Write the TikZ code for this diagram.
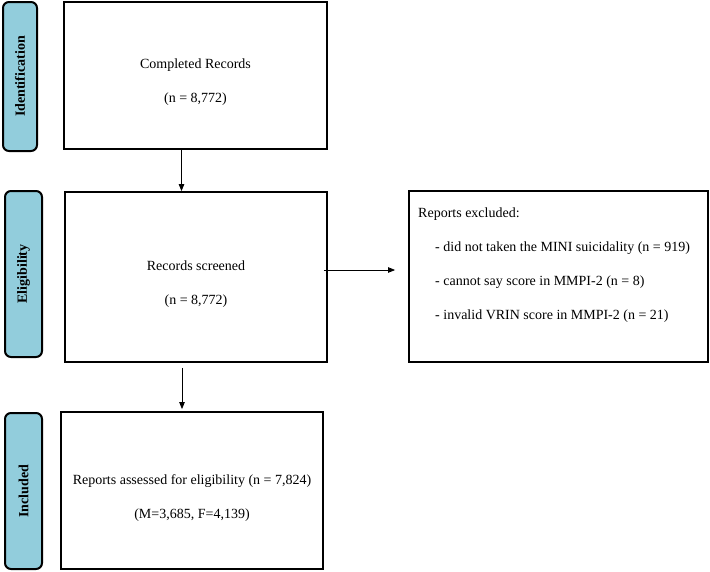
\documentclass[tikz,border=0pt]{standalone}
\usepackage{fontspec}
\setmainfont{Liberation Serif}
\usepackage{tikz}
\usetikzlibrary{arrows.meta}
\definecolor{stageblue}{RGB}{146,205,220}
\tikzstyle{arrow}=[draw=black, line width=0.8pt, >={Triangle[length=7pt, width=5.5pt]}]
\tikzstyle{stage}=[draw=black, line width=2pt, fill=stageblue, rounded corners=6pt, rotate=90, font=\fontsize{14}{17}\selectfont\bfseries, inner sep=0pt]
\tikzstyle{box}=[draw=black, line width=1.8pt, inner sep=0pt]

\begin{document}
\begin{tikzpicture}[x=1pt, y=-1pt, font=\fontsize{14}{17}\selectfont]
		   \useasboundingbox (0,0) rectangle (710,571);
		   % stage labels
		   \node (identstage) at (20,76.5)[stage, minimum width=149pt, minimum height=34pt] {Identification};
		   \node (eligstage) at (23.5,274)[stage, minimum width=166pt, minimum height=37pt] {Eligibility};
		   \node (inclstage) at (23.5,491)[stage, minimum width=156pt, minimum height=37pt] {Included};
		   % boxes
		   \node (ident) at (195.5,75.5)[box, minimum width=263pt, minimum height=147pt] {};
		   \node (elig) at (196,277)[box, minimum width=262pt, minimum height=170pt] {};
		   \node (incl) at (192,490.5)[box, minimum width=262pt, minimum height=157pt] {};
		   \node (excl) at (558.5,276.5)[box, minimum width=299pt, minimum height=171pt] {};
		   % texts
		   \node (identtext) at (195.5,82)[align=center] {Completed Records\\[17pt](n = 8,772)};
		   \node (eligtext) at (196,284.5)[align=center] {Records screened\\[17pt](n = 8,772)};
		   \node (incltext) at (192,498)[align=center] {Reports assessed for eligibility (n = 7,824)\\[17pt](M=3,685, F=4,139)};
		   \node (excltext) at (418,265.5)[anchor=west, align=left, inner sep=0pt] {
		   Reports excluded:\\[17pt]
		   \hspace{17pt}- did not taken the MINI suicidality (n = 919)\\[17pt]
		   \hspace{17pt}- cannot say score in MMPI-2 (n = 8)\\[17pt]
		   \hspace{17pt}- invalid VRIN score in MMPI-2 (n = 21)
		   };
		   % arrows
		   \draw[arrow, ->] ([xshift=-14pt]ident.south) -- ([xshift=-14pt]ident.south |- elig.north);
		   \draw[arrow, ->, shorten >=2pt] ([xshift=-14pt, yshift=-5pt]elig.south) -- ([xshift=-14pt]elig.south |- incl.north);
		   \draw[arrow, ->, shorten >=9pt] ([xshift=-4pt, yshift=7pt]elig.east) -- ([xshift=-4pt, yshift=7pt]elig.east -| excl.west);
	   \end{tikzpicture}
\end{document}
